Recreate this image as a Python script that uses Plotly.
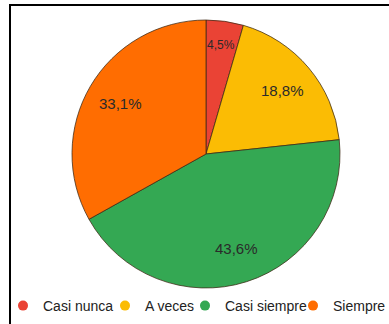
import math
import plotly.graph_objects as go

categories = ["Casi nunca", "A veces", "Casi siempre", "Siempre"]
values = [4.5, 18.8, 43.6, 33.1]
colors = ["#EA4335", "#FBBC04", "#34A853", "#FF6D01"]

W, H = 389, 324
cx, cy, r = 206, 154, 134
FONT = "Arial, Liberation Sans, sans-serif"

fig = go.Figure()
fig.add_trace(go.Pie(
    labels=categories, values=values, sort=False, direction="clockwise",
    rotation=0, marker=dict(colors=colors, line=dict(color="rgba(60,40,20,0.75)", width=1)),
    textinfo="none", showlegend=False, hoverinfo="label+percent",
    domain=dict(x=[(cx - r) / W, (cx + r) / W], y=[1 - (cy + r) / H, 1 - (cy - r) / H]),
))

# percentage labels placed at mid-angle of each slice (derived from values)
total = sum(values)
start = 0.0
annotations = []
for v in values:
    frac = v / total
    mid = (start + frac / 2) * 2 * math.pi
    start += frac
    k = 0.82 if frac < 0.1 else 0.74
    px = cx + math.sin(mid) * r * k
    py = cy - math.cos(mid) * r * k
    txt = f"{frac * 100:.1f}%".replace(".", ",")
    annotations.append(dict(x=px / W, y=1 - py / H, xref="paper", yref="paper", text=txt,
                            showarrow=False, xanchor="center", yanchor="middle",
                            font=dict(family=FONT, size=12 if frac < 0.1 else 15, color="#2a2a2a")))

# one legend per category so each entry sits where the reference has it
legend_left = [3, 105, 185, 293]
layout_legends = {}
for i, (name, c) in enumerate(zip(categories, colors)):
    key = "legend" if i == 0 else f"legend{i + 1}"
    fig.add_trace(go.Scatter(x=[None], y=[None], mode="markers", name=name, legend=key,
                             marker=dict(color=c, size=10, symbol="circle")))
    layout_legends[key] = dict(orientation="h", x=legend_left[i] / W, xanchor="left",
                               y=1 - 306 / H, yanchor="middle", itemwidth=30,
                               font=dict(family=FONT, size=14, color="#222"),
                               bgcolor="rgba(0,0,0,0)", borderwidth=0)

fig.update_layout(
    width=W, height=H, margin=dict(l=0, r=0, t=0, b=0, autoexpand=False),
    paper_bgcolor="white", plot_bgcolor="white",
    xaxis=dict(visible=False), yaxis=dict(visible=False),
    annotations=annotations,
    shapes=[dict(type="rect", xref="paper", yref="paper", x0=10 / W, x1=1.2, y0=-0.2, y1=1 - 5 / H,
                 line=dict(color="black", width=2), fillcolor="rgba(0,0,0,0)", layer="above")],
    **layout_legends,
)
fig.write_html("out.html")
